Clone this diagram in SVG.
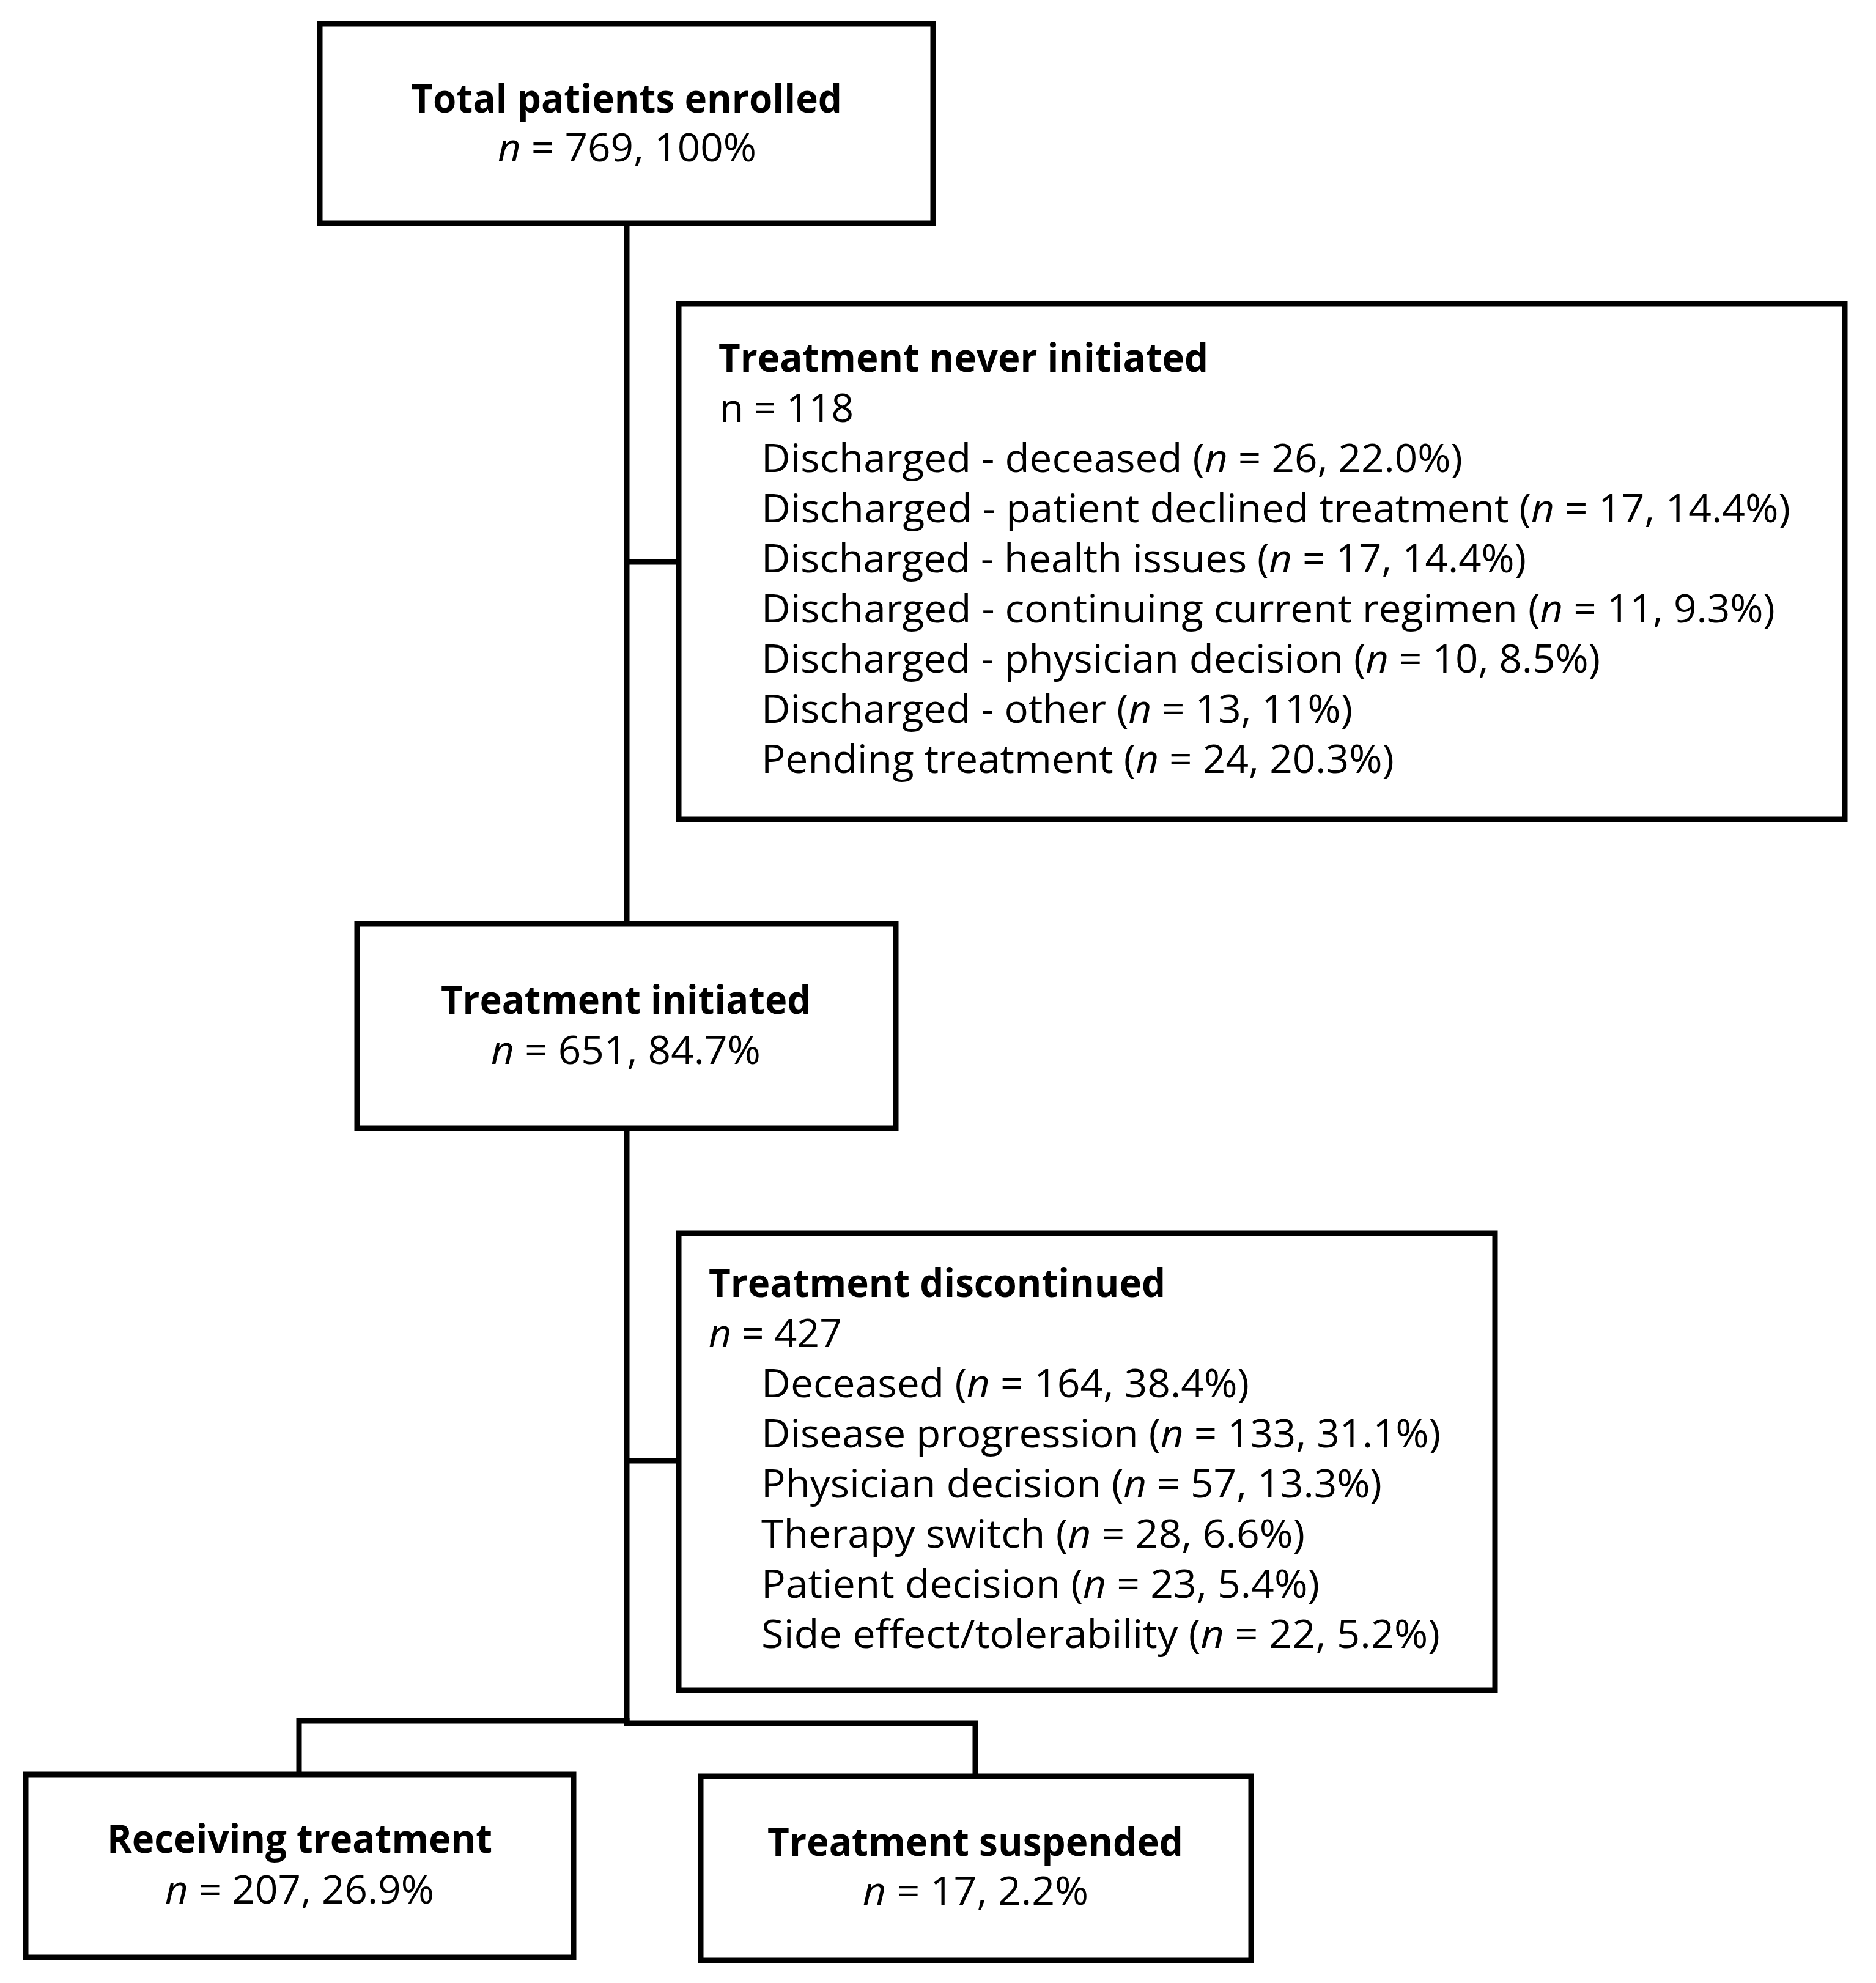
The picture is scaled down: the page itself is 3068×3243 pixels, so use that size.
<svg xmlns="http://www.w3.org/2000/svg" width="3068" height="3243" viewBox="0 0 3068 3243">
<style>
.box{fill:#fff;stroke:#000;stroke-width:9}
.con{fill:none;stroke:#000;stroke-width:9;stroke-linecap:square;stroke-linejoin:miter}
text{font-family:"Open Sans","Noto Sans","Liberation Sans",sans-serif;font-size:64px;fill:#000}
.b{font-weight:bold}
.i{font-style:italic}
</style>
<rect width="3068" height="3243" fill="#fff"/>
<g id="connectors">
<polyline class="con" points="1025,365 1025,1511"/>
<polyline class="con" points="1025,919 1110,919"/>
<polyline class="con" points="1025,1845 1025,2814"/>
<polyline class="con" points="1025,2389 1110,2389"/>
<polyline class="con" points="1025,2814 489,2814 489,2902"/>
<polyline class="con" points="1025,2818 1595,2818 1595,2905"/>
</g>
<g id="total">
<rect class="box" x="523" y="39" width="1003" height="326"/>
<text class="b" x="672" y="184" textLength="705" lengthAdjust="spacingAndGlyphs">Total patients enrolled</text>
<text x="814" y="264" textLength="423" lengthAdjust="spacingAndGlyphs"><tspan class="i">n</tspan> = 769, 100%</text>
</g>
<g id="never">
<rect class="box" x="1110" y="497" width="1907" height="843"/>
<text class="b" x="1175" y="608" textLength="801" lengthAdjust="spacingAndGlyphs">Treatment never initiated</text>
<text x="1177" y="690" textLength="219" lengthAdjust="spacingAndGlyphs">n = 118</text>
<text x="1245" y="772" textLength="1147" lengthAdjust="spacingAndGlyphs">Discharged - deceased (<tspan class="i">n</tspan> = 26, 22.0%)</text>
<text x="1245" y="854" textLength="1683" lengthAdjust="spacingAndGlyphs">Discharged - patient declined treatment (<tspan class="i">n</tspan> = 17, 14.4%)</text>
<text x="1245" y="936" textLength="1251" lengthAdjust="spacingAndGlyphs">Discharged - health issues (<tspan class="i">n</tspan> = 17, 14.4%)</text>
<text x="1245" y="1018" textLength="1658" lengthAdjust="spacingAndGlyphs">Discharged - continuing current regimen (<tspan class="i">n</tspan> = 11, 9.3%)</text>
<text x="1245" y="1100" textLength="1372" lengthAdjust="spacingAndGlyphs">Discharged - physician decision (<tspan class="i">n</tspan> = 10, 8.5%)</text>
<text x="1245" y="1182" textLength="967" lengthAdjust="spacingAndGlyphs">Discharged - other (<tspan class="i">n</tspan> = 13, 11%)</text>
<text x="1245" y="1264" textLength="1035" lengthAdjust="spacingAndGlyphs">Pending treatment (<tspan class="i">n</tspan> = 24, 20.3%)</text>
</g>
<g id="initiated">
<rect class="box" x="584" y="1511" width="881" height="334"/>
<text class="b" x="721" y="1658" textLength="605" lengthAdjust="spacingAndGlyphs">Treatment initiated</text>
<text x="803" y="1740" textLength="441" lengthAdjust="spacingAndGlyphs"><tspan class="i">n</tspan> = 651, 84.7%</text>
</g>
<g id="discontinued">
<rect class="box" x="1110" y="2017" width="1335" height="747"/>
<text class="b" x="1159" y="2121" textLength="747" lengthAdjust="spacingAndGlyphs">Treatment discontinued</text>
<text x="1159" y="2203" textLength="218" lengthAdjust="spacingAndGlyphs"><tspan class="i">n</tspan> = 427</text>
<text x="1245" y="2285" textLength="798" lengthAdjust="spacingAndGlyphs">Deceased (<tspan class="i">n</tspan> = 164, 38.4%)</text>
<text x="1245" y="2367" textLength="1111" lengthAdjust="spacingAndGlyphs">Disease progression (<tspan class="i">n</tspan> = 133, 31.1%)</text>
<text x="1245" y="2449" textLength="1015" lengthAdjust="spacingAndGlyphs">Physician decision (<tspan class="i">n</tspan> = 57, 13.3%)</text>
<text x="1245" y="2531" textLength="889" lengthAdjust="spacingAndGlyphs">Therapy switch (<tspan class="i">n</tspan> = 28, 6.6%)</text>
<text x="1245" y="2613" textLength="913" lengthAdjust="spacingAndGlyphs">Patient decision (<tspan class="i">n</tspan> = 23, 5.4%)</text>
<text x="1245" y="2695" textLength="1110" lengthAdjust="spacingAndGlyphs">Side effect/tolerability (<tspan class="i">n</tspan> = 22, 5.2%)</text>
</g>
<g id="receiving">
<rect class="box" x="42" y="2902" width="896" height="299"/>
<text class="b" x="175" y="3030" textLength="630" lengthAdjust="spacingAndGlyphs">Receiving treatment</text>
<text x="270" y="3113" textLength="440" lengthAdjust="spacingAndGlyphs"><tspan class="i">n</tspan> = 207, 26.9%</text>
</g>
<g id="suspended">
<rect class="box" x="1146" y="2905" width="900" height="301"/>
<text class="b" x="1255" y="3035" textLength="680" lengthAdjust="spacingAndGlyphs">Treatment suspended</text>
<text x="1411" y="3115" textLength="369" lengthAdjust="spacingAndGlyphs"><tspan class="i">n</tspan> = 17, 2.2%</text>
</g>
</svg>
